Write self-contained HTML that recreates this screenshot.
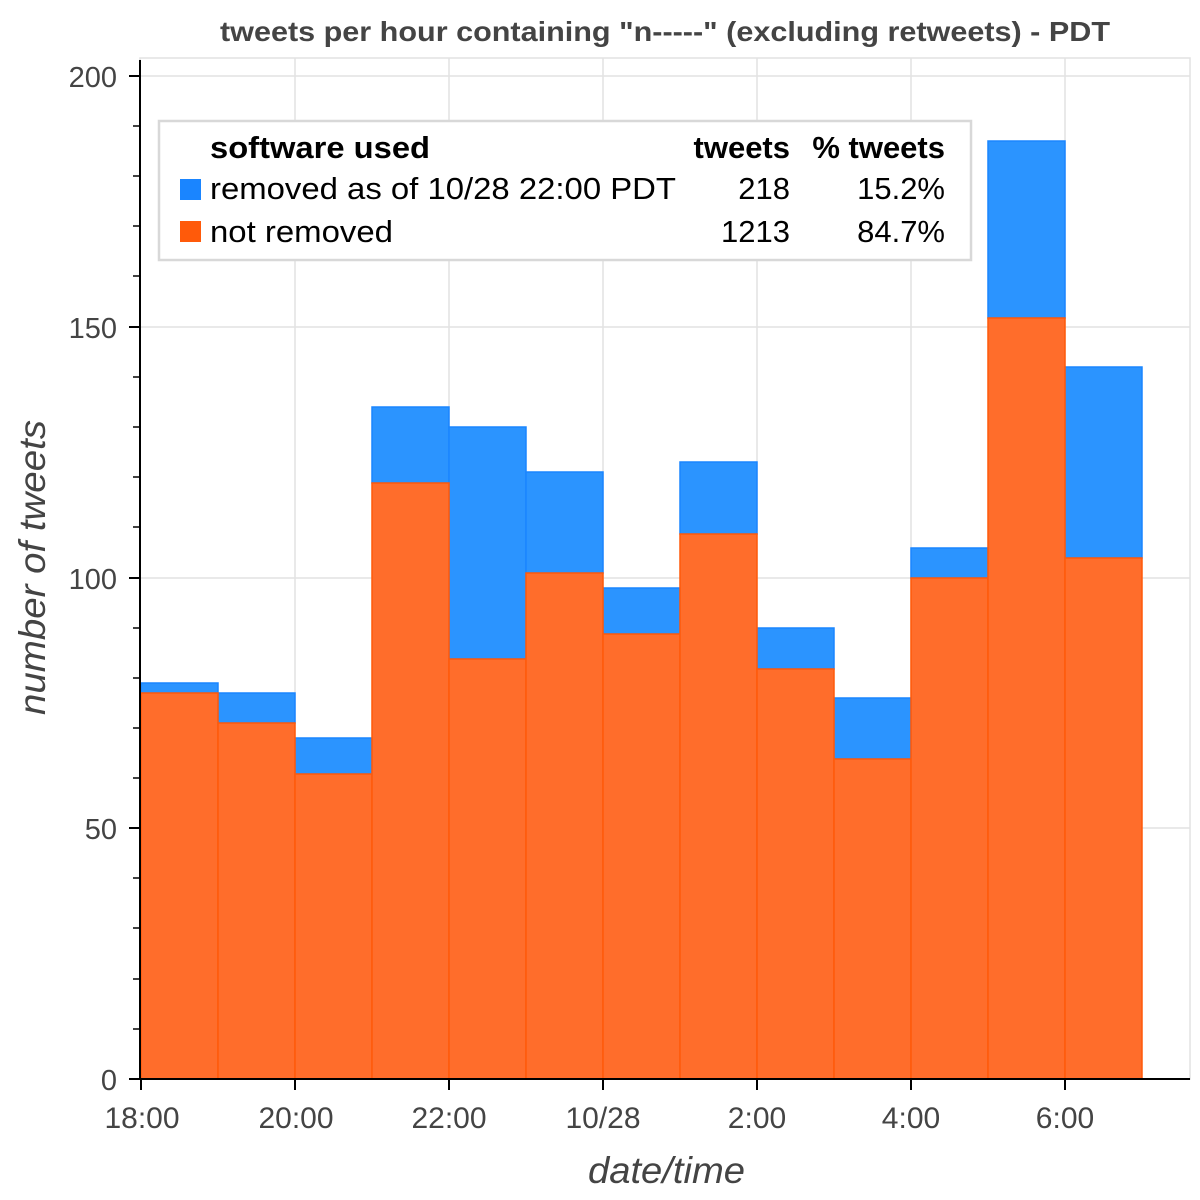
<!DOCTYPE html>
<html><head><meta charset="utf-8"><style>body{margin:0;background:#fff}svg{display:block}</style></head>
<body>
<svg width="1200" height="1200" viewBox="0 0 1200 1200" xmlns="http://www.w3.org/2000/svg" font-family="Liberation Sans, sans-serif">
<rect width="1200" height="1200" fill="#fff"/>
<text x="220" y="41" font-size="28" font-weight="bold" fill="#444" textLength="890" lengthAdjust="spacingAndGlyphs">tweets per hour containing "n-----" (excluding retweets) - PDT</text>
<rect x="140" y="58" width="1050" height="1021" fill="none" stroke="#e2e2e2" stroke-width="1.5"/>
<g stroke="#e2e2e2" stroke-width="1.5">
<line x1="295" y1="58" x2="295" y2="1079"/><line x1="449" y1="58" x2="449" y2="1079"/><line x1="603" y1="58" x2="603" y2="1079"/><line x1="757" y1="58" x2="757" y2="1079"/><line x1="911" y1="58" x2="911" y2="1079"/><line x1="1065" y1="58" x2="1065" y2="1079"/>
<line x1="140" y1="76" x2="1190" y2="76"/><line x1="140" y1="327" x2="1190" y2="327"/><line x1="140" y1="578" x2="1190" y2="578"/><line x1="140" y1="828" x2="1190" y2="828"/>
</g>
<g stroke-width="1.5">
<g fill="#2b94ff" stroke="#1a85ff">
<rect x="141" y="683" width="77" height="10"/>
<rect x="218" y="693" width="77" height="30"/>
<rect x="295" y="738" width="77" height="36"/>
<rect x="372" y="407" width="77" height="76"/>
<rect x="449" y="427" width="77" height="232"/>
<rect x="526" y="472" width="77" height="101"/>
<rect x="603" y="588" width="77" height="46"/>
<rect x="680" y="462" width="77" height="72"/>
<rect x="757" y="628" width="77" height="41"/>
<rect x="834" y="698" width="77" height="61"/>
<rect x="911" y="548" width="77" height="30"/>
<rect x="988" y="141" width="77" height="177"/>
<rect x="1065" y="367" width="77" height="191"/>
</g>
<g fill="#ff6d2b" stroke="#ff5a0a">
<rect x="141" y="693" width="77" height="386"/>
<rect x="218" y="723" width="77" height="356"/>
<rect x="295" y="774" width="77" height="305"/>
<rect x="372" y="483" width="77" height="596"/>
<rect x="449" y="659" width="77" height="420"/>
<rect x="526" y="573" width="77" height="506"/>
<rect x="603" y="634" width="77" height="445"/>
<rect x="680" y="534" width="77" height="545"/>
<rect x="757" y="669" width="77" height="410"/>
<rect x="834" y="759" width="77" height="320"/>
<rect x="911" y="578" width="77" height="501"/>
<rect x="988" y="318" width="77" height="761"/>
<rect x="1065" y="558" width="77" height="521"/>
</g>
</g>
<g stroke="#000" stroke-width="2">
<line x1="140" y1="60" x2="140" y2="1080"/>
<line x1="140" y1="1079" x2="1190" y2="1079"/>
<line x1="129" y1="76" x2="140" y2="76"/><line x1="129" y1="327" x2="140" y2="327"/><line x1="129" y1="578" x2="140" y2="578"/><line x1="129" y1="828" x2="140" y2="828"/><line x1="129" y1="1079" x2="140" y2="1079"/>
<g stroke-width="1.5">
<line x1="133" y1="126" x2="140" y2="126"/><line x1="133" y1="176" x2="140" y2="176"/><line x1="133" y1="226" x2="140" y2="226"/><line x1="133" y1="276" x2="140" y2="276"/>
<line x1="133" y1="377" x2="140" y2="377"/><line x1="133" y1="427" x2="140" y2="427"/><line x1="133" y1="477" x2="140" y2="477"/><line x1="133" y1="527" x2="140" y2="527"/>
<line x1="133" y1="628" x2="140" y2="628"/><line x1="133" y1="678" x2="140" y2="678"/><line x1="133" y1="728" x2="140" y2="728"/><line x1="133" y1="778" x2="140" y2="778"/>
<line x1="133" y1="878" x2="140" y2="878"/><line x1="133" y1="928" x2="140" y2="928"/><line x1="133" y1="979" x2="140" y2="979"/><line x1="133" y1="1029" x2="140" y2="1029"/>
</g>
<line x1="141" y1="1079" x2="141" y2="1090"/><line x1="295" y1="1079" x2="295" y2="1090"/><line x1="449" y1="1079" x2="449" y2="1090"/><line x1="603" y1="1079" x2="603" y2="1090"/><line x1="757" y1="1079" x2="757" y2="1090"/><line x1="911" y1="1079" x2="911" y2="1090"/><line x1="1065" y1="1079" x2="1065" y2="1090"/>
</g>
<g font-size="29" fill="#444" text-anchor="end">
<text x="117" y="87">200</text><text x="117" y="338">150</text><text x="117" y="589">100</text><text x="117" y="839">50</text><text x="117" y="1090">0</text>
</g>
<g font-size="30" fill="#444" text-anchor="middle">
<text x="142" y="1128">18:00</text><text x="296" y="1128">20:00</text><text x="449" y="1128">22:00</text><text x="603" y="1128">10/28</text><text x="757" y="1128">2:00</text><text x="911" y="1128">4:00</text><text x="1065" y="1128">6:00</text>
</g>
<text x="588" y="1183" font-size="37" font-style="italic" fill="#444" textLength="157" lengthAdjust="spacingAndGlyphs">date/time</text>
<text transform="translate(45,715) rotate(-90)" font-size="37" font-style="italic" fill="#444" textLength="295" lengthAdjust="spacingAndGlyphs">number of tweets</text>
<rect x="159" y="121" width="812" height="139" fill="#fff" stroke="#d8d8d8" stroke-width="2.5"/>
<g font-size="31" fill="#000">
<text x="210" y="158" font-weight="bold" textLength="220" lengthAdjust="spacingAndGlyphs">software used</text>
<text x="790" y="158" font-weight="bold" text-anchor="end">tweets</text>
<text x="945" y="158" font-weight="bold" text-anchor="end">% tweets</text>
<rect x="180" y="179" width="21" height="21" fill="#1a85ff"/>
<text x="210" y="199" textLength="466" lengthAdjust="spacingAndGlyphs">removed as of 10/28 22:00 PDT</text>
<text x="790" y="199" text-anchor="end">218</text>
<text x="945" y="199" text-anchor="end">15.2%</text>
<rect x="180" y="221" width="21" height="21" fill="#ff5a0a"/>
<text x="210" y="242" textLength="183" lengthAdjust="spacingAndGlyphs">not removed</text>
<text x="790" y="242" text-anchor="end">1213</text>
<text x="945" y="242" text-anchor="end">84.7%</text>
</g>
</svg>
</body></html>
